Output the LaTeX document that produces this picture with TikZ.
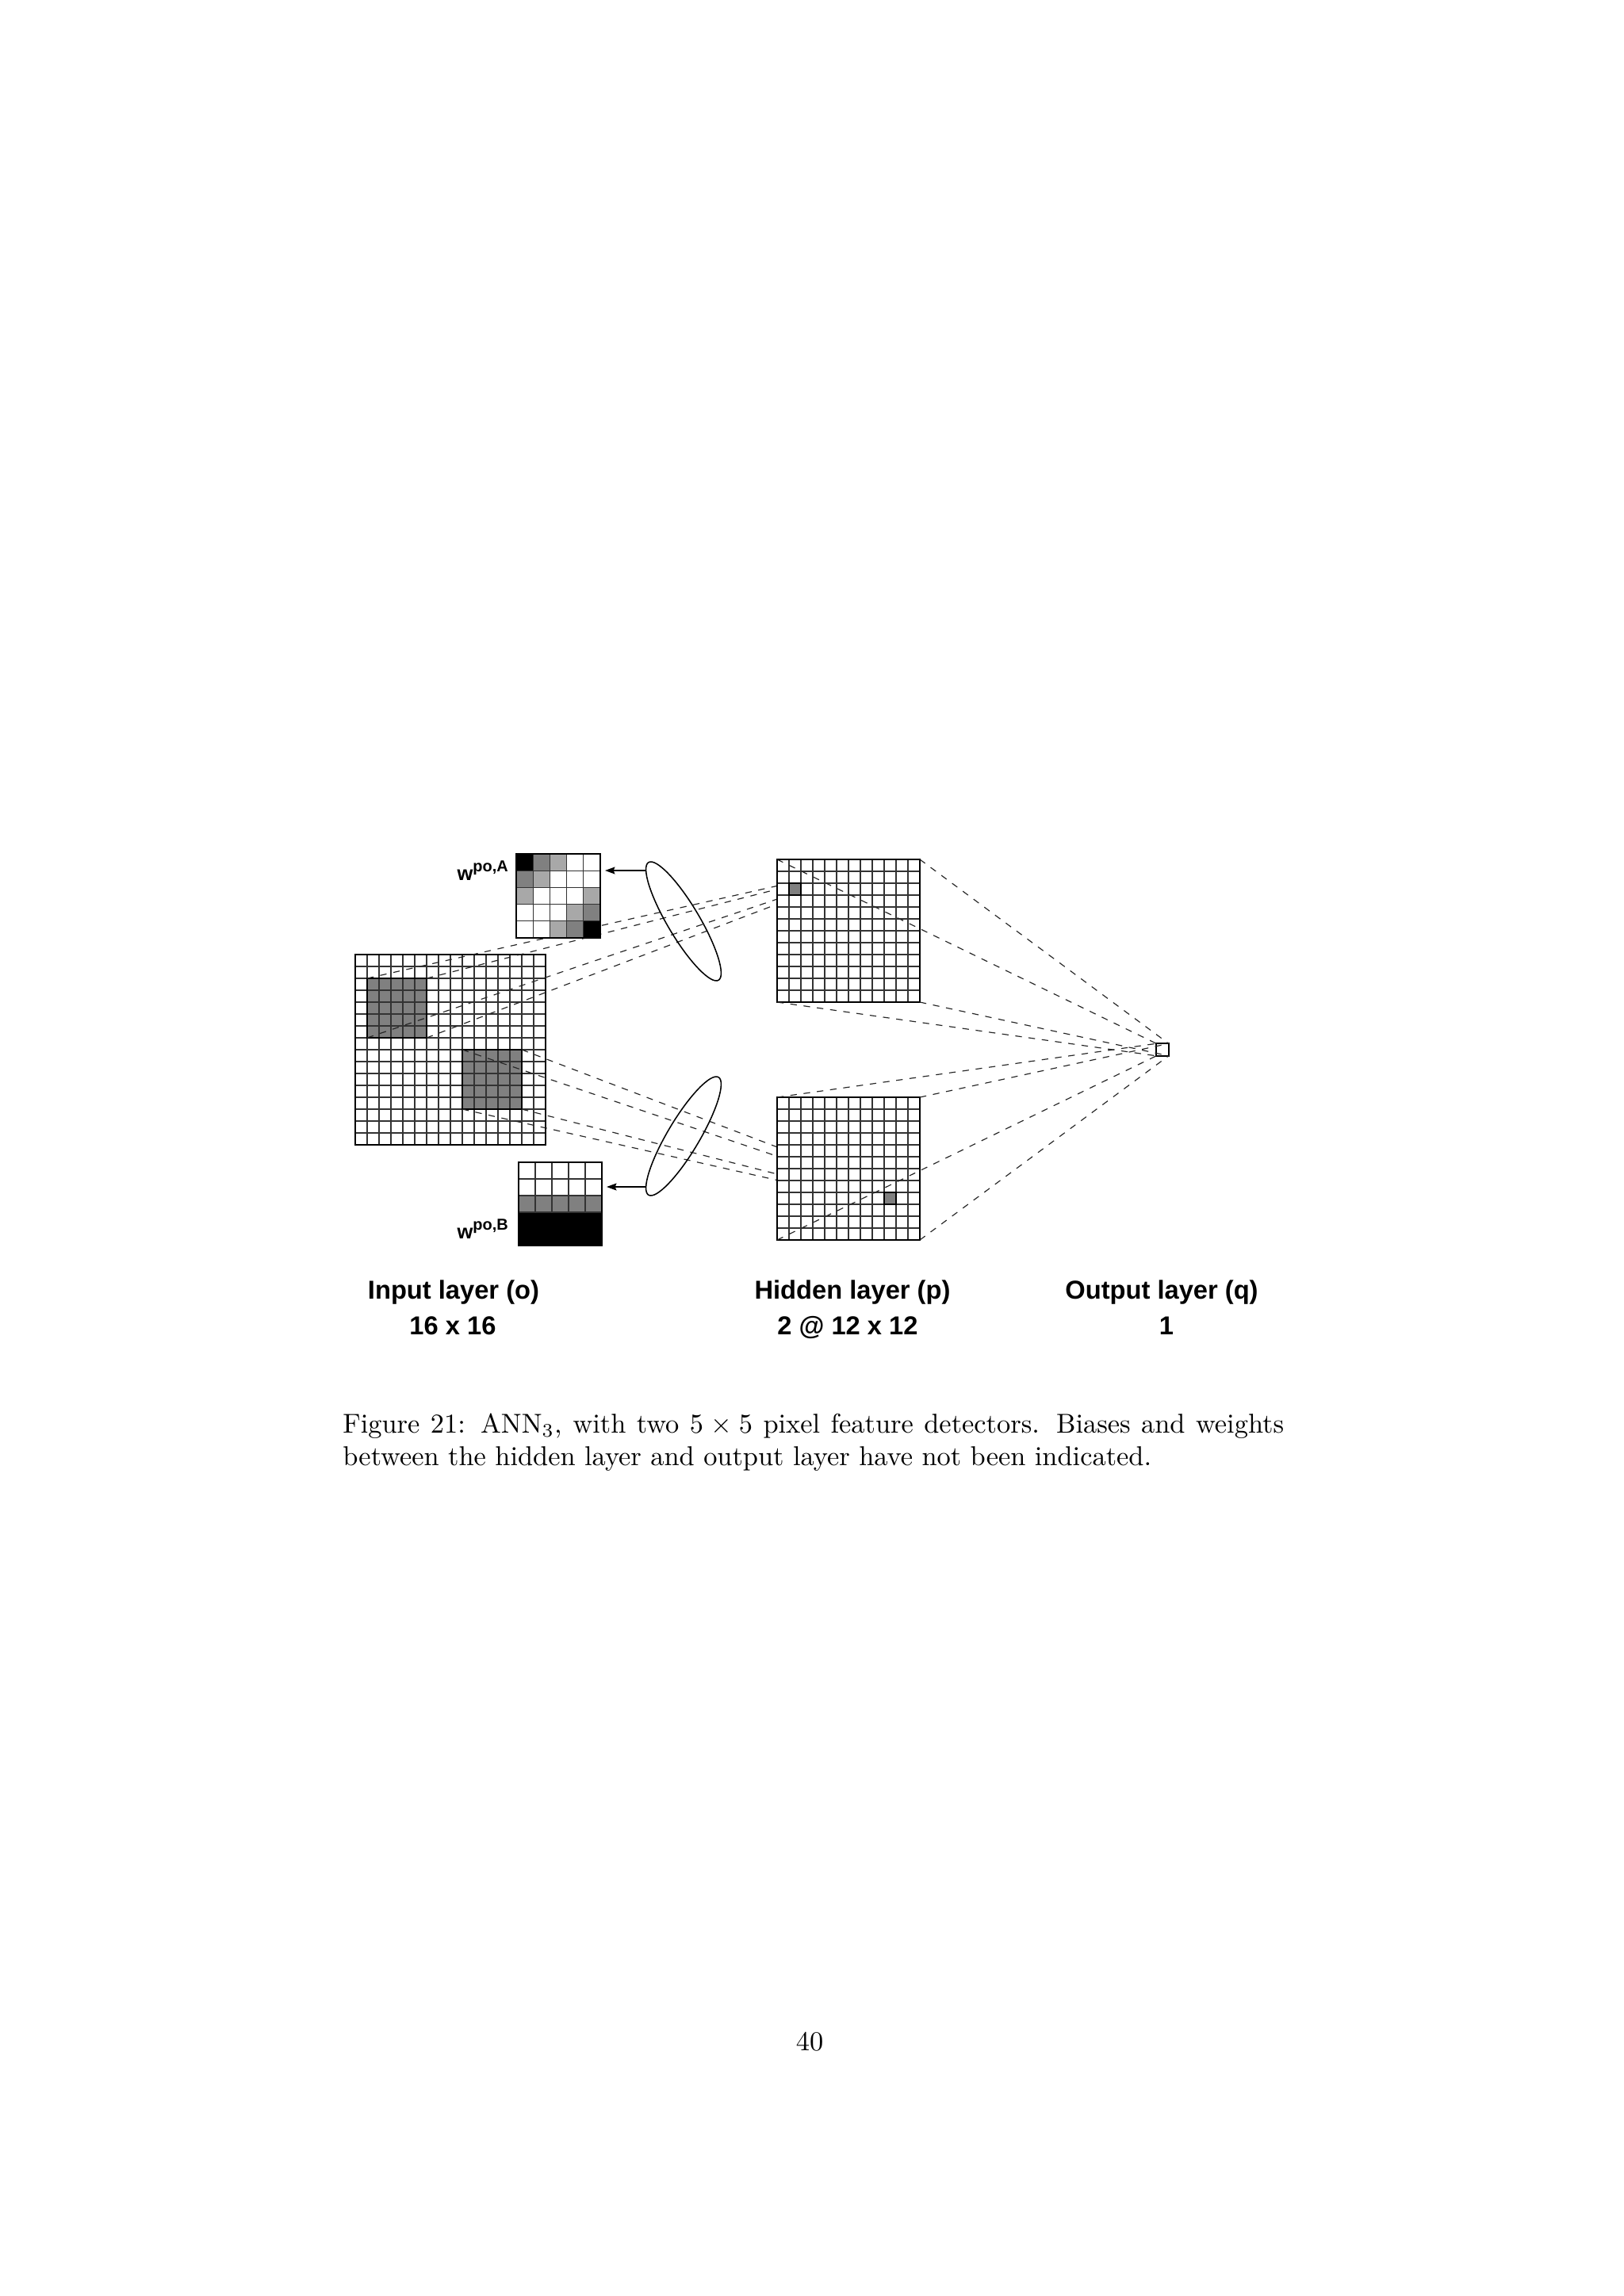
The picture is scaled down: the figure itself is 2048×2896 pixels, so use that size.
\documentclass[tikz,border=0pt]{standalone}
\usepackage{fontspec}
\newfontfamily\arialf{Liberation Sans}
\usetikzlibrary{shapes.geometric,arrows.meta}
\newcommand\pxu{0.29072pt}
\definecolor{lgray}{gray}{0.66}
\definecolor{mgray}{gray}{0.5}
\tikzset{
  px/.style={x=0.29072pt,y=-0.29072pt},
  gridln/.style={draw=black!80, line width=0.33pt},
  border/.style={draw=black, line width=0.52pt},
  box/.style={rectangle, inner sep=0pt, outer sep=0pt, anchor=north west},
  conn/.style={draw=black!85, line width=0.34pt, dash pattern=on 2.4pt off 2.5pt},
  lens/.style={ellipse, draw=black, line width=0.45pt, inner sep=0pt, outer sep=0pt,
    minimum width=172.8*\pxu, minimum height=40.4*\pxu},
  ptr/.style={draw=black, line width=0.4pt,
    -{Stealth[length=3.6pt,width=2.6pt,inset=0.5pt]}, shorten >=1.75pt},
  lab/.style={font=\arialf\bfseries\fontsize{9.5}{11}\selectfont, inner sep=0pt, anchor=base},
  wlab/.style={font=\arialf\bfseries\fontsize{7.4}{8}\selectfont, inner sep=0pt, anchor=base west},
}
\begin{document}
\begin{tikzpicture}[px]
\useasboundingbox (0,0) rectangle (2048,2896);
\fill[white] (0,0) rectangle (2048,2896);

% ---------- input layer 16x16 ----------
\node[box, fill=white, minimum width=240*\pxu, minimum height=240*\pxu] (iG) at (448,1204) {};
\node[box, fill=mgray, minimum size=75*\pxu] (pA) at (463,1234) {};
\node[box, fill=mgray, minimum size=75*\pxu] (pB) at (583,1324) {};
\foreach \i in {1,...,15} {
  \draw[gridln] (448+\i*15,1204) -- (448+\i*15,1444);
  \draw[gridln] (448,1204+\i*15) -- (688,1204+\i*15);
}
\draw[border] (pA.north west) rectangle (pA.south east);
\draw[border] (pB.north west) rectangle (pB.south east);
\draw[border] (iG.north west) rectangle (iG.south east);

% hidden units (reference nodes, drawn later)
\node[box, minimum size=15*\pxu] (hA) at (995,1114) {};
\node[box, minimum size=15*\pxu] (hB) at (1115,1504) {};

% ---------- receptive field connectors ----------
\foreach \c in {north west,north east,south west,south east} {
  \draw[conn] (pA.\c) -- (hA.\c);
  \draw[conn] (pB.\c) -- (hB.\c);
}

% ---------- feature detector A ----------
\node[box, fill=white, minimum size=106*\pxu] (kA) at (651,1077) {};
\foreach \r/\c/\kc in {0/0/black,0/1/mgray,0/2/lgray,1/0/mgray,1/1/lgray,2/0/lgray,2/4/lgray,3/3/lgray,3/4/mgray,4/2/lgray,4/3/mgray,4/4/black}
  \fill[\kc] (651+\c*21.2,1077+\r*21.2) rectangle ++(21.2,21.2);
\foreach \i in {1,...,4} {
  \draw[gridln] (651+\i*21.2,1077) -- (651+\i*21.2,1183);
  \draw[gridln] (651,1077+\i*21.2) -- (757,1077+\i*21.2);
}
\draw[border] (kA.north west) rectangle (kA.south east);

% ---------- feature detector B ----------
\node[box, fill=white, minimum width=105*\pxu, minimum height=105*\pxu] (kB) at (654,1466) {};
\fill[mgray] (654,1508) rectangle (759,1529);
\fill[black] (654,1529) rectangle (759,1571);
\foreach \i in {1,...,4}
  \draw[gridln] (654+\i*21,1466) -- (654+\i*21,1529);
\foreach \i in {1,2,3}
  \draw[gridln] (654,1466+\i*21) -- (759,1466+\i*21);
\draw[border] (kB.north west) rectangle (kB.south east);

% labels w
\node[wlab] (wA) at (576,1110) {w\raisebox{3.0pt}{\fontsize{5.8}{6}\selectfont po,A}};
\node[wlab] (wB) at (576,1562) {w\raisebox{3.0pt}{\fontsize{5.8}{6}\selectfont po,B}};

% ---------- lenses and arrows ----------
\node[lens, rotate=-59.3] (eA) at (862,1162) {};
\node[lens, rotate=59.3] (eB) at (862,1433) {};
\coordinate (eAl) at (814.5,1098);
\coordinate (eBl) at (814.5,1497);
\draw[ptr] (eAl) -- (eAl -| kA.east);
\draw[ptr] (eBl) -- (eBl -| kB.east);

% ---------- hidden layer 2 @ 12x12 ----------
\node[box, fill=white, minimum size=180*\pxu] (hG1) at (980,1084) {};
\fill[mgray] (hA.north west) rectangle (hA.south east);
\foreach \i in {1,...,11} {
  \draw[gridln] (980+\i*15,1084) -- (980+\i*15,1264);
  \draw[gridln] (980,1084+\i*15) -- (1160,1084+\i*15);
}
\draw[border] (hA.north west) rectangle (hA.south east);
\draw[border] (hG1.north west) rectangle (hG1.south east);

\node[box, fill=white, minimum size=180*\pxu] (hG2) at (980,1384) {};
\fill[mgray] (hB.north west) rectangle (hB.south east);
\foreach \i in {1,...,11} {
  \draw[gridln] (980+\i*15,1384) -- (980+\i*15,1564);
  \draw[gridln] (980,1384+\i*15) -- (1160,1384+\i*15);
}
\draw[border] (hB.north west) rectangle (hB.south east);
\draw[border] (hG2.north west) rectangle (hG2.south east);

% ---------- output unit ----------
\node[box, anchor=center, fill=white, border, minimum size=15.5*\pxu] (out) at (1466,1324) {};
\foreach \g in {hG1,hG2}
  \foreach \c in {north west,north east,south west,south east}
    \draw[conn] (\g.\c) -- (out.\c);

% ---------- layer labels ----------
\node[lab] (l1) at (572,1638) {Input layer (o)};
\node[lab] (l2) at (571,1683) {16 x 16};
\node[lab] (l3) at (1075,1638) {Hidden layer (p)};
\node[lab] (l4) at (1069,1683) {2 @ 12 x 12};
\node[lab] (l5) at (1465,1638) {Output layer (q)};
\node[lab] (l6) at (1471,1683) {1};

% ---------- caption and page number ----------
\node[anchor=base west, inner sep=0pt, font=\fontsize{10}{12}\selectfont] (cap) at (431.7,1807)
  {\parbox[t]{345pt}{Figure 21: ANN$_3$, with two $5\times 5$ pixel feature detectors. Biases and weights between the hidden layer and output layer have not been indicated.}};
\node[anchor=base, inner sep=0pt, font=\fontsize{10}{12}\selectfont] (pg) at (1021,2586) {40};
\end{tikzpicture}
\end{document}
